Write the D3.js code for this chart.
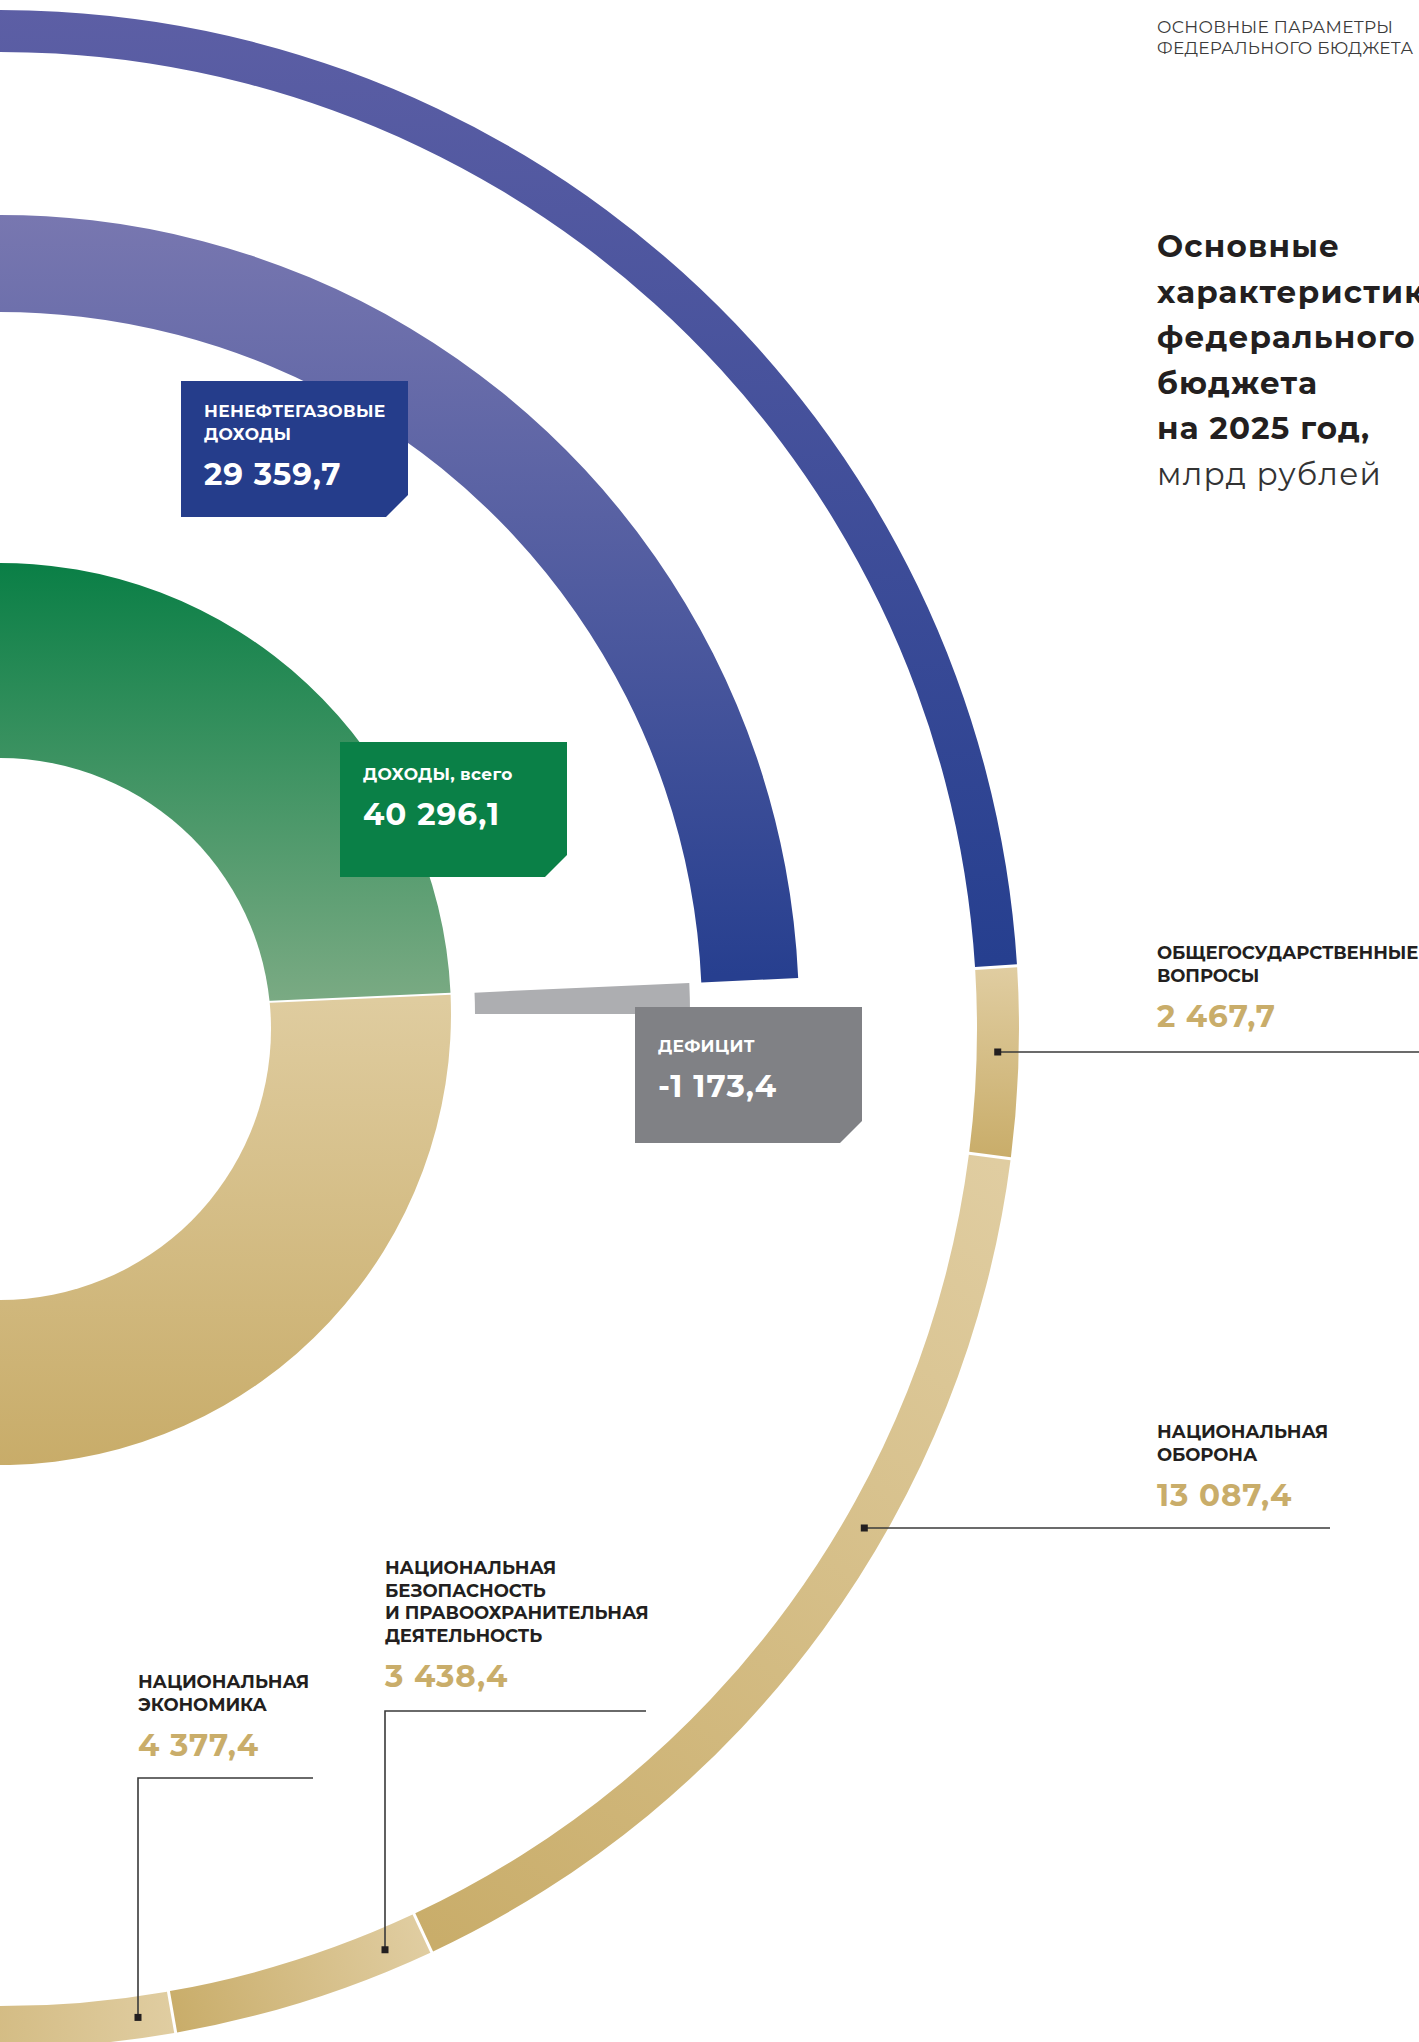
<!DOCTYPE html>
<html lang="ru">
<head>
<meta charset="utf-8">
<title>Основные характеристики федерального бюджета на 2025 год</title>
<style>
body { margin: 0; background: #fff; }
#chart svg { display: block; }
text { font-family: Montserrat, "Open Sans", sans-serif; }
.head { font-size: 17px; fill: #3b3b3b; letter-spacing: 0.3px; }
.title { font-size: 31px; font-weight: 700; fill: #231f20; letter-spacing: 1.2px; }
.title.light { font-weight: 400; fill: #333; }
.cat { font-size: 18px; font-weight: 700; fill: #231f20; letter-spacing: -0.1px; }
.val { font-size: 31px; font-weight: 700; fill: #c9ad6a; letter-spacing: 0.9px; }
.box-label { font-size: 17px; font-weight: 700; fill: #fff; letter-spacing: 0.3px; }
.box-val { font-size: 31px; font-weight: 700; fill: #fff; letter-spacing: 1px; }
.leader { stroke: #3a3a3a; stroke-width: 1.6px; fill: none; }
</style>
</head>
<body>
<div id="chart"></div>
<script src="https://cdn.jsdelivr.net/npm/d3@7"></script>
<script>

// federal budget 2025, bn rub
var budgetNames = ["ДОХОДЫ, всего", "РАСХОДЫ, всего", "ДЕФИЦИТ"];
var budgetValues = [40296.1, 41469.5, -1173.4];

var nonOilNames = ["НЕНЕФТЕГАЗОВЫЕ", "ДОХОДЫ"];
var nonOilValue = 29359.7;

var spendNames = [
  ["ОБЩЕГОСУДАРСТВЕННЫЕ", "ВОПРОСЫ"],
  ["НАЦИОНАЛЬНАЯ", "ОБОРОНА"],
  ["НАЦИОНАЛЬНАЯ", "БЕЗОПАСНОСТЬ", "И ПРАВООХРАНИТЕЛЬНАЯ", "ДЕЯТЕЛЬНОСТЬ"],
  ["НАЦИОНАЛЬНАЯ", "ЭКОНОМИКА"]
];
var spendValues = [2467.7, 13087.4, 3438.4, 4377.4];

var headLines = ["ОСНОВНЫЕ ПАРАМЕТРЫ", "ФЕДЕРАЛЬНОГО БЮДЖЕТА"];
var titleLines = ["Основные", "характеристики", "федерального", "бюджета", "на 2025 год,"];
var unitLine = "млрд рублей";

const width = 1419,
    height = 2042;

// ring centres sit on the left edge of the page
var cIn = { x: 0, y: 1014 },
    cOut = { x: 0, y: 1029 };

var rInner = [268, 451],
    rHole = 271,          // hole is drawn around cOut, like the print
    rMiddle = [702, 799],
    rGap = [475, 690],
    rOuter = [977, 1019],
    rDot = 998;

var ru = d3.formatLocale({ decimal: ",", thousands: " ", grouping: [3], currency: ["", ""], minus: "-" });
var fmt = ru.format(",.1f");

var svg = d3.select("#chart")
    .append("svg")
    .attr("width", width)
    .attr("height", height)
    .attr("viewBox", [0, 0, width, height]);

var defs = svg.append("defs");

// gradients are in the local space of the group that uses them
function grad(id, x1, y1, x2, y2, c1, c2) {
  var g = defs.append("linearGradient")
      .attr("id", id)
      .attr("gradientUnits", "userSpaceOnUse")
      .attr("x1", x1).attr("y1", y1)
      .attr("x2", x2).attr("y2", y2);
  g.append("stop").attr("offset", 0).attr("stop-color", c1);
  g.append("stop").attr("offset", 1).attr("stop-color", c2);
}

grad("outerBlue", 0, 0 - cOut.y, 0, 960 - cOut.y, "#5d5fa5", "#263f8f");
grad("midBlue", 0, 216 - cIn.y, 0, 975 - cIn.y, "#7877b0", "#273f8f");
grad("green", 0, 564 - cIn.y, 0, 1000 - cIn.y, "#0a7f46", "#7aaa83");
grad("goldIn", 0, 1000 - cIn.y, 0, 1466 - cIn.y, "#dfcc9f", "#c8ac69");

var mask = defs.append("mask")
    .attr("id", "hole")
    .attr("maskUnits", "userSpaceOnUse")
    .attr("x", -cIn.y).attr("y", -cIn.y)
    .attr("width", 3000).attr("height", 3000);
mask.append("rect")
    .attr("x", -1500).attr("y", -1500)
    .attr("width", 3000).attr("height", 3000)
    .attr("fill", "#fff");
mask.append("circle")
    .attr("cx", cOut.x - cIn.x)
    .attr("cy", cOut.y - cIn.y)
    .attr("r", rHole)
    .attr("fill", "#000");

var revenue = budgetValues[0],
    spend = budgetValues[1],
    deficit = budgetValues[2];

// one full turn = revenue + spending
var angle = d3.scaleLinear()
    .domain([0, revenue + spend])
    .range([0, 2 * Math.PI]);

var pie = d3.pie()
    .sort(null)
    .startAngle(-Math.PI / 2)
    .endAngle(3 * Math.PI / 2)
    .padAngle(0.005);

var inner = pie([revenue, spend]);
var revEnd = inner[0].endAngle;

var arcIn = d3.arc()
    .innerRadius(rInner[0] - 40)
    .outerRadius(rInner[1])
    .padRadius(400);

var gIn = svg.append("g")
    .attr("transform", "translate(" + cIn.x + "," + cIn.y + ")");

gIn.append("g")
    .attr("mask", "url(#hole)")
  .selectAll("path")
    .data(inner)
    .enter().append("path")
    .attr("d", arcIn)
    .attr("fill", function(d, i) { return i === 0 ? "url(#green)" : "url(#goldIn)"; });

// non oil-gas revenue ends where total revenue ends
gIn.append("path")
    .attr("d", d3.arc()({
      innerRadius: rMiddle[0], outerRadius: rMiddle[1],
      startAngle: revEnd - angle(nonOilValue), endAngle: revEnd
    }))
    .attr("fill", "url(#midBlue)");

// deficit: the gap between revenue and the balance line
gIn.append("path")
    .attr("d", d3.arc()({
      innerRadius: rGap[0], outerRadius: rGap[1],
      startAngle: revEnd, endAngle: revEnd + angle(Math.abs(deficit)) / 2
    }))
    .attr("fill", "#adaeb1");

// outer ring: spending by section
var outerStart = revEnd - 0.017;
var acc = outerStart;
var spendArcs = spendValues.map(function(v, i) {
  var a = { startAngle: acc, endAngle: acc + angle(v), index: i,
            innerRadius: rOuter[0], outerRadius: rOuter[1], padAngle: 0.003 };
  acc = a.endAngle;
  return a;
});

var arcOut = d3.arc().padRadius(1000);

function pt(r, a) {
  return [r * Math.sin(a), -r * Math.cos(a)];
}

spendArcs.forEach(function(d) {
  var p1 = pt(rDot, d.startAngle), p2 = pt(rDot, d.endAngle);
  grad("gold" + d.index, p1[0], p1[1], p2[0], p2[1], "#e0cda1", "#c9ad6a");
});

var gOut = svg.append("g")
    .attr("transform", "translate(" + cOut.x + "," + cOut.y + ")");

gOut.append("path")
    .attr("d", arcOut({
      innerRadius: rOuter[0], outerRadius: rOuter[1],
      startAngle: outerStart - angle(revenue), endAngle: outerStart, padAngle: 0.003
    }))
    .attr("fill", "url(#outerBlue)");

gOut.selectAll("path.spend")
    .data(spendArcs)
    .enter().append("path")
    .attr("class", "spend")
    .attr("d", arcOut)
    .attr("fill", function(d) { return "url(#gold" + d.index + ")"; });

// value boxes with a clipped corner
var boxes = [
  { x: 181, y: 381, w: 227, h: 136, ty: 36, fill: "#253d8b", lines: nonOilNames, value: nonOilValue },
  { x: 340, y: 742, w: 227, h: 135, ty: 38, fill: "#0a8047", lines: [budgetNames[0]], value: revenue },
  { x: 635, y: 1007, w: 227, h: 136, ty: 45, fill: "#808185", lines: [budgetNames[2]], value: deficit }
];
var cut = 22;

var box = svg.selectAll("g.box")
    .data(boxes)
    .enter().append("g")
    .attr("class", "box");

box.append("path")
    .attr("d", function(d) {
      return "M" + d.x + "," + d.y +
        "H" + (d.x + d.w) +
        "V" + (d.y + d.h - cut) +
        "L" + (d.x + d.w - cut) + "," + (d.y + d.h) +
        "H" + d.x + "Z";
    })
    .attr("fill", function(d) { return d.fill; });

box.each(function(d) {
  var g = d3.select(this);
  d.lines.forEach(function(t, i) {
    g.append("text")
        .attr("class", "box-label")
        .attr("x", d.x + 23)
        .attr("y", d.y + d.ty + i * 23)
        .text(t);
  });
  g.append("text")
      .attr("class", "box-val")
      .attr("x", d.x + 23)
      .attr("y", d.y + d.ty + (d.lines.length - 1) * 23 + 45)
      .text(fmt(d.value));
});

// spending labels and leader lines
var spendLayout = [
  { x: 1157, y: 959, kind: "right", lineY: 1052, lineEnd: 1419 },
  { x: 1157, y: 1438, kind: "right", lineY: 1528, lineEnd: 1330 },
  { x: 385, y: 1574, kind: "down", lineY: 1711, lineEnd: 646 },
  { x: 138, y: 1688, kind: "down", lineY: 1778, lineEnd: 313 }
];

spendNames.forEach(function(lines, i) {
  var L = spendLayout[i];
  var g = svg.append("g").attr("class", "label");
  lines.forEach(function(t, j) {
    g.append("text")
        .attr("class", "cat")
        .attr("x", L.x)
        .attr("y", L.y + j * 22.5)
        .text(t);
  });
  g.append("text")
      .attr("class", "val")
      .attr("x", L.x)
      .attr("y", L.y + (lines.length - 1) * 22.5 + 45)
      .text(fmt(spendValues[i]));

  var dot;
  if (L.kind === "right") {
    var dy = L.lineY - cOut.y;
    dot = [cOut.x + Math.sqrt(rDot * rDot - dy * dy), L.lineY];
    g.append("path")
        .attr("class", "leader")
        .attr("d", "M" + dot[0] + "," + dot[1] + "H" + L.lineEnd);
  } else {
    var dx = L.x - cOut.x;
    dot = [L.x, cOut.y + Math.sqrt(rDot * rDot - dx * dx)];
    g.append("path")
        .attr("class", "leader")
        .attr("d", "M" + dot[0] + "," + dot[1] + "V" + L.lineY + "H" + L.lineEnd);
  }
  g.append("rect")
      .attr("x", dot[0] - 3.5)
      .attr("y", dot[1] - 3.5)
      .attr("width", 7)
      .attr("height", 7)
      .attr("fill", "#231f20");
});

// heading block
headLines.forEach(function(t, i) {
  svg.append("text")
      .attr("class", "head")
      .attr("x", 1157)
      .attr("y", 33 + i * 21)
      .text(t);
});

titleLines.forEach(function(t, i) {
  svg.append("text")
      .attr("class", "title")
      .attr("x", 1157)
      .attr("y", 257 + i * 45.5)
      .text(t);
});
svg.append("text")
    .attr("class", "title light")
    .attr("x", 1157)
    .attr("y", 257 + titleLines.length * 45.5)
    .text(unitLine);

</script>
</body>
</html>
